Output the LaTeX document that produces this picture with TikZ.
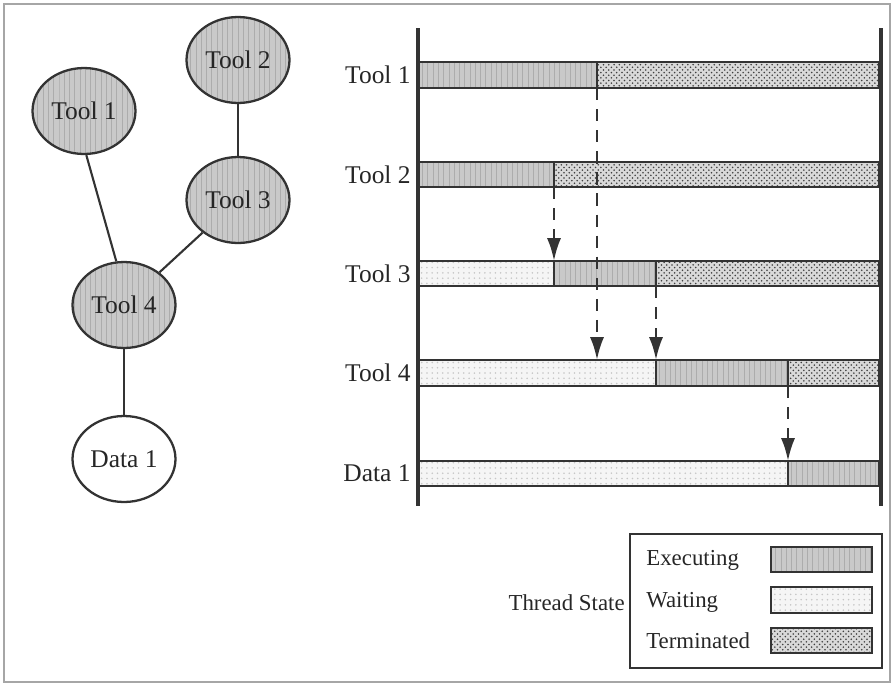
\documentclass[tikz,border=0pt]{standalone}
\usepackage{fontspec}
\setmainfont{Liberation Serif}
\usetikzlibrary{shapes.geometric,patterns,arrows.meta}

\tikzset{
  exec/.style={draw=black!80, line width=1pt, preaction={fill=gray!42}, pattern=vertical lines, pattern color=gray!65},
  wait/.style={draw=black!80, line width=1pt, preaction={fill=gray!8}, pattern=dots, pattern color=gray!45},
  term/.style={draw=black!80, line width=1pt, preaction={fill=gray!30}, pattern=crosshatch dots, pattern color=black!75},
  tool/.style={ellipse, exec, line width=1.3pt, minimum width=2.06cm, minimum height=1.72cm, inner sep=0pt},
  datanode/.style={ellipse, draw=black!80, fill=white, line width=1.3pt, minimum width=2.06cm, minimum height=1.72cm, inner sep=0pt},
  link/.style={draw=black!80, line width=1.2pt},
  timeline/.style={draw=black!80, line width=2.2pt},
  dep/.style={draw=black!80, line width=1.5pt, dash pattern=on 7pt off 5pt, -{Latex[length=13pt, width=8pt]}}
}

\begin{document}
\begin{tikzpicture}[x=0.02cm, y=-0.02cm, font=\fontsize{14.5}{17}\selectfont, text=black!85]
  \useasboundingbox (0,0) rectangle (896,684);
  % outer frame
  \draw[gray!70, line width=0.8pt] (4,4) rectangle (890,682);

  % task graph
  \node[tool] (tool1) at (84,111) {Tool 1};
  \node[tool] (tool2) at (238,60) {Tool 2};
  \node[tool] (tool3) at (238,200) {Tool 3};
  \node[tool] (tool4) at (124,305) {Tool 4};
  \node[datanode] (data1) at (124,459) {Data 1};
  \draw[link] (tool1.-87) -- (tool4.100);
  \draw[link] (tool2) -- (tool3);
  \draw[link] (tool3) -- (tool4);
  \draw[link] (tool4) -- (data1);

  % row labels
  \foreach \name/\lab/\y in {lt1/Tool 1/75, lt2/Tool 2/175, lt3/Tool 3/274, lt4/Tool 4/373, ld1/Data 1/473}
    \node[anchor=east, inner sep=0pt] (\name) at (411,\y) {\lab};

  % thread bars
  \draw[exec] (419,62) rectangle (597,88);
  \draw[term] (597,62) rectangle (879,88);
  \draw[exec] (419,162) rectangle (554,187);
  \draw[term] (554,162) rectangle (879,187);
  \draw[wait] (419,261) rectangle (554,286);
  \draw[exec] (554,261) rectangle (656,286);
  \draw[term] (656,261) rectangle (879,286);
  \draw[wait] (419,360) rectangle (656,386);
  \draw[exec] (656,360) rectangle (788,386);
  \draw[term] (788,360) rectangle (879,386);
  \draw[wait] (419,461) rectangle (788,486);
  \draw[exec] (788,461) rectangle (879,486);

  % start and end of the time span
  \draw[timeline] (418,28) -- (418,506);
  \draw[timeline] (881,28) -- (881,506);

  % dependencies
  \coordinate (t1done) at (597,88);
  \coordinate (t2done) at (554,187);
  \coordinate (t3done) at (656,286);
  \coordinate (t4done) at (788,386);
  \coordinate (t3start) at (554,261);
  \coordinate (t4mark) at (597,360);
  \coordinate (t4start) at (656,360);
  \coordinate (d1start) at (788,461);
  \draw[dep] (t1done) -- (t4mark);
  \draw[dep] (t2done) -- (t3start);
  \draw[dep] (t3done) -- (t4start);
  \draw[dep] (t4done) -- (d1start);

  % legend
  \begin{scope}[font=\fontsize{13}{15}\selectfont]
    \draw[draw=black!80, line width=1.6pt] (630,534) rectangle (882,668);
    \node[anchor=east, inner sep=0pt] (state) at (625,603) {Thread State};
    \node[anchor=west, inner sep=0pt] (kexec) at (646,560) {Executing};
    \node[anchor=west, inner sep=0pt] (kwait) at (646,602) {Waiting};
    \node[anchor=west, inner sep=0pt] (kterm) at (646,641) {Terminated};
    \draw[exec] (771,547) rectangle (872,572);
    \draw[wait] (771,587) rectangle (872,613);
    \draw[term] (771,628) rectangle (872,653);
  \end{scope}
\end{tikzpicture}
\end{document}
